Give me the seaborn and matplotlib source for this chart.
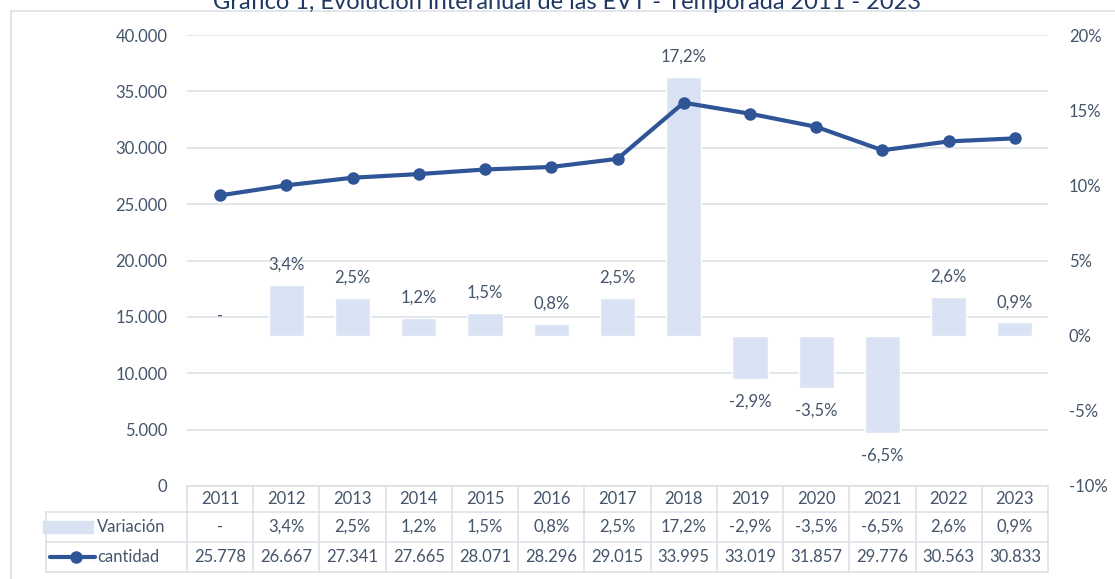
import numpy as np
import pandas as pd
import matplotlib
matplotlib.use("Agg")
import matplotlib.pyplot as plt
import seaborn as sns
from matplotlib.patches import Rectangle
from matplotlib.lines import Line2D
from matplotlib.ticker import FuncFormatter

# ---- data ----
years = ["2011", "2012", "2013", "2014", "2015", "2016", "2017",
         "2018", "2019", "2020", "2021", "2022", "2023"]
variacion = [np.nan, 3.4, 2.5, 1.2, 1.5, 0.8, 2.5, 17.2, -2.9, -3.5, -6.5, 2.6, 0.9]
cantidad = [25778, 26667, 27341, 27665, 28071, 28296, 29015,
            33995, 33019, 31857, 29776, 30563, 30833]
title = "Gráfico 1, Evolución interanual de las EVT - Temporada 2011 - 2023"

df = pd.DataFrame({"year": years, "var": variacion, "cant": cantidad})

sns.set_theme(style="white")
plt.rcParams["font.family"] = ["Lato", "DejaVu Sans"]

W, H = 1115, 579
fig = plt.figure(figsize=(W / 100, H / 100), dpi=100)

TXT = "#44546A"
BAR = "#DAE3F3"
LINE = "#2F5597"
GRID = "#DDE1E7"
FS = 12

# outer chart border
fig.patches.append(Rectangle((11 / W, -0.05), 1.2, 1 - 11 / H + 0.05,
                             transform=fig.transFigure, fill=False,
                             edgecolor=GRID, lw=1.2))
fig.text(567 / W, 1 - 9 / H, title, ha="center", va="baseline",
         color="#1F3864", fontsize=17)

L, R, T, B = 187, 1048, 35, 486
rect = [L / W, 1 - B / H, (R - L) / W, (B - T) / H]

def fmt_thousands(v, p):
    return f"{int(v):,}".replace(",", ".")

# background axis (left scale + grid)
ax = fig.add_axes(rect)
ax.set_ylim(0, 40000)
ax.set_xlim(-0.5, 12.5)
ax.set_yticks(np.arange(0, 40001, 5000))
ax.yaxis.set_major_formatter(FuncFormatter(fmt_thousands))
ax.grid(axis="y", color=GRID, lw=1.2)
ax.grid(axis="x", visible=False)
ax.set_xticks([])
ax.tick_params(axis="y", length=0, pad=14, labelsize=FS, labelcolor=TXT)
for s in ax.spines.values():
    s.set_visible(False)
ax.patch.set_visible(False)

# bars (right scale)
ax2 = ax.twinx()
sns.barplot(data=df, x="year", y="var", ax=ax2, color=BAR, width=0.53,
            saturation=1, errorbar=None)
ax2.set_ylim(-10, 20)
ax2.set_xlim(-0.5, 12.5)
ax2.set_yticks(np.arange(-10, 21, 5))
ax2.yaxis.set_major_formatter(FuncFormatter(lambda v, p: f"{int(v)}%"))
ax2.tick_params(axis="y", length=0, pad=15, labelsize=FS, labelcolor=TXT)
ax2.set_xticks([])
ax2.set_xlabel("")
ax2.set_ylabel("")
for s in ax2.spines.values():
    s.set_visible(False)

def pct(v):
    return "-" if np.isnan(v) else f"{v:.1f}%".replace(".", ",")

for i, v in enumerate(variacion):
    val = 0 if np.isnan(v) else v
    off = 20 if val >= 0 else -22
    ax2.annotate(pct(v), (i, val), xytext=(0, off * 0.72), textcoords="offset points",
                 ha="center", va="center", fontsize=FS, color=TXT)

# line (left scale)
ax3 = ax.twinx()
sns.lineplot(data=df, x="year", y="cant", ax=ax3, color=LINE, lw=3,
             marker="o", markersize=9, markeredgewidth=0)
ax3.set_ylim(0, 40000)
ax3.set_xlim(-0.5, 12.5)
ax3.set_yticks([])
ax3.set_xticks([])
ax3.set_xlabel("")
ax3.set_ylabel("")
for s in ax3.spines.values():
    s.set_visible(False)

# ---- data table below the plot ----
ph = B - T
def yax(px):
    return -(px - B) / ph

tr = ax.get_xaxis_transform()
rows_px = [486, 512, 542, 572]
y_top, y_r1, y_r2, y_bot = [yax(p) for p in rows_px]
xleft_ax = (46 - L) / (R - L) * 13 - 0.5

line_kw = dict(color=GRID, lw=1.2, clip_on=False, transform=tr)
ax.add_line(Line2D([-0.5, 12.5], [y_top, y_top], **line_kw))
for yy in (y_r1, y_r2, y_bot):
    ax.add_line(Line2D([xleft_ax, 12.5], [yy, yy], **line_kw))
for k in range(14):
    xx = k - 0.5
    ax.add_line(Line2D([xx, xx], [y_top, y_bot], **line_kw))
ax.add_line(Line2D([xleft_ax, xleft_ax], [y_r1, y_bot], **line_kw))

yc0 = yax(499)
yc1 = yax(527)
yc2 = yax(557)
for i, yr in enumerate(years):
    ax.text(i, yc0, yr, transform=tr, ha="center", va="center", fontsize=FS, color=TXT)
    ax.text(i, yc1, pct(variacion[i]), transform=tr, ha="center", va="center",
            fontsize=FS, color=TXT)
    ax.text(i, yc2, fmt_thousands(cantidad[i], None), transform=tr, ha="center",
            va="center", fontsize=FS, color=TXT)

def xax(px):
    return (px - L) / (R - L) * 13 - 0.5

ax.add_patch(Rectangle((xax(43), yax(533)), xax(93) - xax(43), yax(521) - yax(533),
                       transform=tr, color=BAR, clip_on=False))
ax.text(xax(97), yc1, "Variación", transform=tr, ha="left", va="center",
        fontsize=FS, color=TXT)
ax.add_line(Line2D([xax(50), xax(95)], [yc2, yc2], color=LINE, lw=3,
                   clip_on=False, transform=tr))
ax.add_line(Line2D([xax(76)], [yc2], color=LINE, marker="o", markersize=9,
                   markeredgewidth=0, clip_on=False, transform=tr))
ax.text(xax(97), yc2, "cantidad", transform=tr, ha="left", va="center",
        fontsize=FS, color=TXT)

fig.savefig("out.png", dpi=100)
